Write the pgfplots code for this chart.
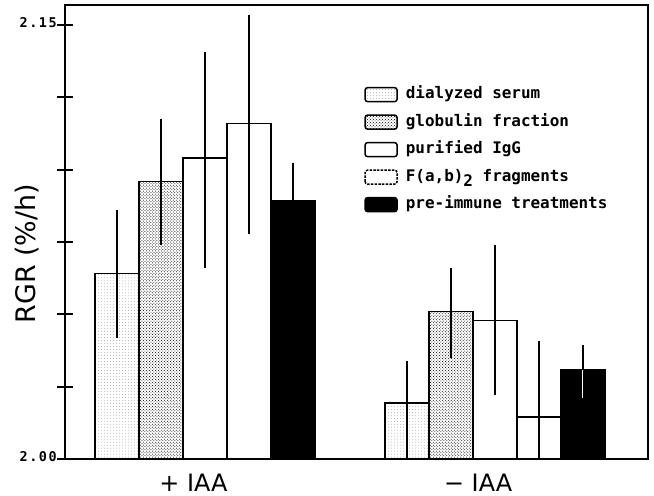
\documentclass[border=0pt]{standalone}
\usepackage{fontspec}
\setmainfont{DejaVu Sans}
\newfontfamily\legfont{DejaVu Sans Mono}
\newfontfamily\tickfont[LetterSpace=12]{DejaVu Sans Mono}
\usepackage{pgfplots}
\pgfplotsset{compat=1.18}
\usetikzlibrary{patterns}
\begin{document}
\begin{tikzpicture}
\pgfplotsset{
  leg/.style={legend image code/.code={
     \draw[##1, line width=1.5bp, rounded corners=2.5bp] (0bp,-7bp) rectangle (32bp,7bp);
     \path (40bp,0bp);}},
  mybar/.style={ybar, bar width=1, bar shift=0, line width=1.6bp, draw=black,
     error bars/y dir=both, error bars/y explicit, error bars/error mark=none,
     error bars/error bar style={line width=1.6bp, black}},
}
\begin{axis}[
  name=ax,
  scale only axis,
  width=583bp, height=454bp,
  xmin=0, xmax=13.25,
  ymin=2, ymax=2.1569,
  axis line style={line width=1.8bp},
  ytick={2,2.025,2.05,2.075,2.1,2.125,2.15},
  yticklabels={2.00,,,,,,2.15},
  ytick pos=left,
  tick align=center,
  major tick length=15bp,
  tick style={line width=2bp, black},
  every major tick/.append style={line width=2bp, black},
  ytick style={line width=2bp, black},
  yticklabel style={font=\tickfont\bfseries\fontsize{13.5}{13.5}\selectfont, anchor=south east, inner sep=0.5bp, yshift=-3bp},
  xtick={2.92,9.39},
  xticklabels={+ IAA, − IAA},
  xtick style={draw=none},
  xticklabel style={font=\fontsize{24}{27}\selectfont, anchor=north, inner sep=0pt, text depth=0pt, yshift=-7bp},
  ylabel={RGR (\%/h)},
  ylabel style={font=\fontsize{27}{30}\selectfont, at={(axis description cs:-0.065,0.452)}, anchor=center},
  legend style={draw=none, fill=none, at={(0.508,0.825)}, anchor=north west,
    font=\legfont\bfseries\fontsize{16}{18}\selectfont,
    row sep=11.5bp,
    nodes={inner sep=0pt, text height=12bp, text depth=4bp}},
  legend cell align=left,
]
% dialyzed serum
\addplot[mybar, pattern=dots, pattern color=gray!60, leg] coordinates {
  (1.18,2.0641) += (0,0.0221) -= (0,0.0224)
  (7.77,2.0193) += (0,0.0145) -= (0,0.0193)
};
\addlegendentry{dialyzed serum}
% globulin fraction
\addplot[mybar, pattern=crosshatch dots, pattern color=black, leg] coordinates {
  (2.18,2.0959) += (0,0.0217) -= (0,0.0218)
  (8.77,2.0510) += (0,0.0149) -= (0,0.0162)
};
\addlegendentry{globulin fraction}
% purified IgG
\addplot[mybar, fill=white, leg] coordinates {
  (3.18,2.1041) += (0,0.0366) -= (0,0.0382)
  (9.77,2.0479) += (0,0.0259) -= (0,0.0258)
};
\addlegendentry{purified IgG}
% F(ab)2 fragments
\addplot[mybar, fill=white, leg, legend image post style={dash pattern=on 2.5bp off 1.2bp}] coordinates {
  (4.18,2.1159) += (0,0.0375) -= (0,0.0383)
  (10.77,2.0145) += (0,0.0262) -= (0,0.0145)
};
\addlegendentry{F(a,b)\raisebox{-5bp}{2} fragments}
% pre-immune
\addplot[mybar, fill=black, leg] coordinates {
  (5.18,2.0893) += (0,0.0131) -= (0,0.0131)
  (11.77,2.0307) += (0,0.0086) -= (0,0.0097)
};
\addlegendentry{pre-immune treatments}
% white part of error bar inside the black bar
\addplot[forget plot, draw=none, mark=none,
  error bars/y dir=minus, error bars/y explicit, error bars/error mark=none,
  error bars/error bar style={line width=1.2bp, white}] coordinates {
  (11.77,2.0307) -= (0,0.0097)
};
\end{axis}
\pgfresetboundingbox
\path (ax.south west) ++(-65bp,-37bp) rectangle ++(654bp,496bp);
\end{tikzpicture}
\end{document}
